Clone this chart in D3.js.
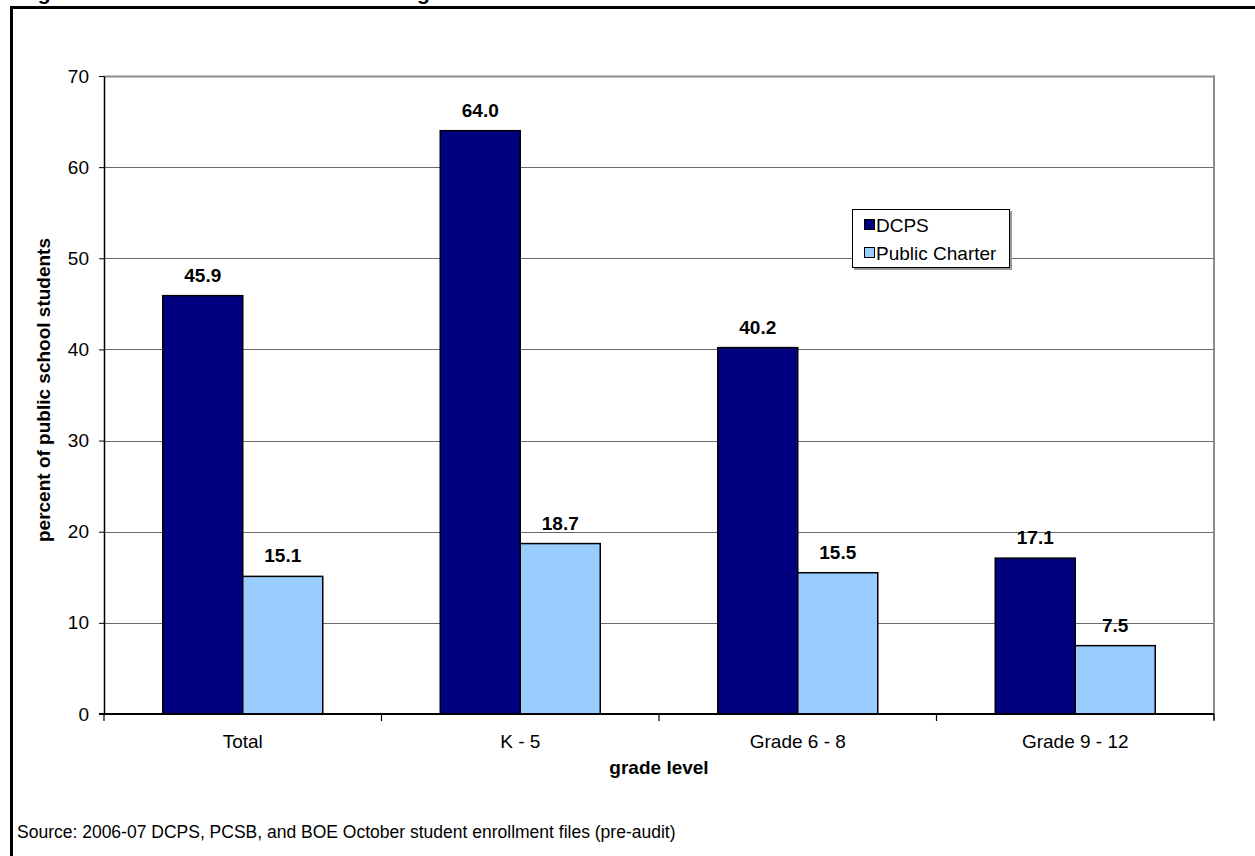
<!DOCTYPE html>
<html>
<head>
<meta charset="utf-8">
<script src="https://cdn.jsdelivr.net/npm/d3@7"></script>
<style>
  html, body { margin: 0; padding: 0; background: #fff; }
  svg { display: block; font-family: "Liberation Sans", Arial, sans-serif; }
</style>
</head>
<body>
<svg id="chart" width="1255" height="856"></svg>
<script>
const categories = ["Total", "K - 5", "Grade 6 - 8", "Grade 9 - 12"];
const seriesNames = ["DCPS", "Public Charter"];
const dcps = [45.9, 64.0, 40.2, 17.1];
const charter = [15.1, 18.7, 15.5, 7.5];
const yTicks = [0, 10, 20, 30, 40, 50, 60, 70];
const colors = ["#000080", "#99CCFF"];

const title = "Figure 4. Net Share of Students Traveling Less than a Mile to School";
const yTitle = "percent of public school students";
const xTitle = "grade level";
const source = "Source: 2006-07 DCPS, PCSB, and BOE October student enrollment files (pre-audit)";

const FS = 19;
const svg = d3.select("#chart");
const plot = { left: 104, right: 1214, top: 76, bottom: 714 };

// Frame (title mostly hidden above the page edge, as in the reference)
svg.append("text").attr("x", 19).attr("y", 0)
  .attr("font-size", 21).attr("font-weight", "bold").text(title);
svg.append("line").attr("x1", 10).attr("x2", 1255).attr("y1", 7.5).attr("y2", 7.5)
  .attr("stroke", "#000").attr("stroke-width", 3);
svg.append("line").attr("x1", 11.5).attr("x2", 11.5).attr("y1", 6).attr("y2", 856)
  .attr("stroke", "#000").attr("stroke-width", 3);

const y = d3.scaleLinear().domain([0, 70]).range([plot.bottom, plot.top]);
const x0 = d3.scaleBand().domain(categories).range([plot.left, plot.right])
  .paddingInner(0.4234).paddingOuter(0.2117);
const x1 = d3.scaleBand().domain(seriesNames).range([0, x0.bandwidth()]);

// gridlines
svg.append("g").selectAll("line").data(yTicks.filter(d => d > 0)).join("line")
  .attr("x1", plot.left).attr("x2", plot.right)
  .attr("y1", d => Math.round(y(d)) + 0.5).attr("y2", d => Math.round(y(d)) + 0.5)
  .attr("stroke", "#6a6a6a").attr("stroke-width", 1);

// plot border top and right
svg.append("line").attr("x1", plot.right).attr("x2", plot.right)
  .attr("y1", plot.top - 0.5).attr("y2", plot.bottom + 6)
  .attr("stroke", "#8c8c8c").attr("stroke-width", 2);
svg.append("line").attr("x1", plot.left).attr("x2", plot.right + 1)
  .attr("y1", plot.top + 0.5).attr("y2", plot.top + 0.5)
  .attr("stroke", "#8c8c8c").attr("stroke-width", 2);

// bars
const data = categories.map((c, i) => ({ cat: c, vals: [dcps[i], charter[i]] }));
const groups = svg.append("g").selectAll("g").data(data).join("g")
  .attr("transform", d => `translate(${x0(d.cat)},0)`);
groups.selectAll("rect").data(d => d.vals.map((v, j) => ({ v, s: seriesNames[j], j })))
  .join("rect")
  .attr("x", d => x1(d.s)).attr("width", x1.bandwidth())
  .attr("y", d => y(d.v)).attr("height", d => y(0) - y(d.v))
  .attr("fill", d => colors[d.j]).attr("stroke", "#000").attr("stroke-width", 1.5);
groups.selectAll("text").data(d => d.vals.map((v, j) => ({ v, s: seriesNames[j], j })))
  .join("text")
  .attr("x", d => x1(d.s) + x1.bandwidth() / 2)
  .attr("y", d => y(d.v) - 14)
  .attr("text-anchor", "middle").attr("font-size", FS).attr("font-weight", "bold")
  .text(d => d3.format(".1f")(d.v));

// y axis
const yAxis = svg.append("g").attr("transform", `translate(${plot.left},0)`)
  .call(d3.axisLeft(y).tickValues(yTicks).tickSize(5).tickPadding(10).tickSizeOuter(0));
yAxis.select(".domain").attr("stroke", "#000").attr("stroke-width", 1.5);
yAxis.selectAll(".tick line").attr("stroke", "#000");
yAxis.selectAll(".tick text").attr("font-size", FS).attr("font-family", "Liberation Sans, Arial").attr("fill", "#000");

// x axis
const xAxis = svg.append("g").attr("transform", `translate(0,${plot.bottom})`)
  .call(d3.axisBottom(x0).tickSize(0).tickPadding(21));
xAxis.select(".domain").remove();
xAxis.append("line").attr("x1", plot.left - 5).attr("x2", plot.right).attr("y1", 0).attr("y2", 0)
  .attr("stroke", "#000").attr("stroke-width", 2);
const boundaries = d3.range(categories.length + 1).map(i => plot.left + i * x0.step());
xAxis.selectAll(".bnd").data(boundaries).join("line").attr("class", "bnd")
  .attr("x1", d => d).attr("x2", d => d).attr("y1", 0).attr("y2", 7)
  .attr("stroke", "#000").attr("stroke-width", 1.2);
xAxis.selectAll(".tick text").attr("font-size", FS).attr("font-family", "Liberation Sans, Arial").attr("fill", "#000");

// axis titles
svg.append("text").attr("transform", `translate(50,390) rotate(-90)`)
  .attr("text-anchor", "middle").attr("font-size", FS).attr("font-weight", "bold").text(yTitle);
svg.append("text").attr("x", (plot.left + plot.right) / 2).attr("y", 774)
  .attr("text-anchor", "middle").attr("font-size", FS).attr("font-weight", "bold").text(xTitle);

// legend
const lg = svg.append("g").attr("transform", "translate(852,209)");
lg.append("rect").attr("x", 2).attr("y", 2).attr("width", 158).attr("height", 59).attr("fill", "#999");
lg.append("rect").attr("x", 0.5).attr("y", 0.5).attr("width", 157).attr("height", 58)
  .attr("fill", "#fff").attr("stroke", "#000").attr("stroke-width", 1);
seriesNames.forEach((s, i) => {
  lg.append("rect").attr("x", 12.5).attr("y", 10.5 + i * 28).attr("width", 10).attr("height", 10)
    .attr("fill", colors[i]).attr("stroke", "#000").attr("stroke-width", 1);
  lg.append("text").attr("x", 24).attr("y", 22.5 + i * 28).attr("font-size", FS).text(s);
});

// source
svg.append("text").attr("x", 17).attr("y", 838).attr("font-size", 17.5).text(source);
</script>
</body>
</html>
